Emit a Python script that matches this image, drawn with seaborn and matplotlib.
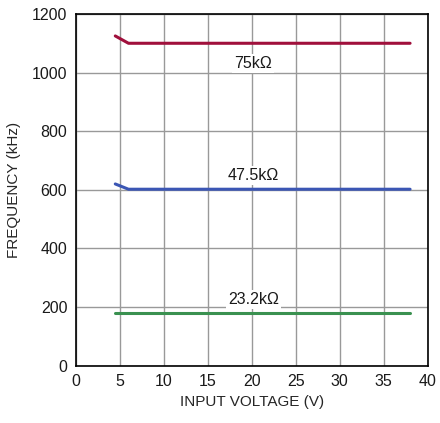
import seaborn as sns
import matplotlib.pyplot as plt
import pandas as pd

# input voltage (V) vs switching frequency (kHz) for three RT resistors
vin_75k = [4.5, 6.0, 10, 15, 20, 25, 30, 35, 38]
freq_75k = [1125, 1100, 1100, 1100, 1100, 1100, 1100, 1100, 1100]
vin_47k = [4.5, 6.0, 10, 15, 20, 25, 30, 35, 38]
freq_47k = [620, 602, 602, 602, 602, 602, 602, 602, 602]
vin_23k = [4.5, 10, 15, 20, 25, 30, 35, 38]
freq_23k = [180, 180, 180, 180, 180, 180, 180, 180]

labels = ['75k\u03a9', '47.5k\u03a9', '23.2k\u03a9']
label_x = [20.2, 20.2, 20.2]
label_y = [1031, 648, 227]
colors = ['#a0103c', '#3b56b4', '#3a9150']

df = pd.concat([
    pd.DataFrame({'vin': vin_75k, 'freq': freq_75k, 'r': labels[0]}),
    pd.DataFrame({'vin': vin_47k, 'freq': freq_47k, 'r': labels[1]}),
    pd.DataFrame({'vin': vin_23k, 'freq': freq_23k, 'r': labels[2]}),
])

sns.set_style('white')
plt.rcParams['font.family'] = ['Liberation Sans', 'DejaVu Sans']
plt.rcParams['text.color'] = '#1a1a1a'

fig = plt.figure(figsize=(4.4, 4.23), dpi=100)
ax = fig.add_axes([0.172, 0.1355, 0.8, 0.8315])
sns.lineplot(data=df, x='vin', y='freq', hue='r', palette=colors, linewidth=2.2,
             legend=False, ax=ax, sort=False, estimator=None)

for txt, x, y in zip(labels, label_x, label_y):
    ax.text(x, y, txt, ha='center', va='center', fontsize=11.5,
            bbox=dict(facecolor='white', edgecolor='none', pad=1.5))

ax.set_xlim(0, 40)
ax.set_ylim(0, 1200)
ax.set_xticks(range(0, 41, 5))
ax.set_yticks(range(0, 1201, 200))
ax.grid(True, color='#999999', linewidth=1)
ax.set_axisbelow(True)
for s in ax.spines.values():
    s.set_color('black')
    s.set_linewidth(1.2)
ax.tick_params(length=0, labelsize=11.5, pad=6, labelcolor='#1a1a1a')
ax.set_xlabel('INPUT VOLTAGE (V)', fontsize=11)
ax.set_ylabel('FREQUENCY (kHz)', fontsize=11, labelpad=8)

plt.savefig('out.png', dpi=100)
